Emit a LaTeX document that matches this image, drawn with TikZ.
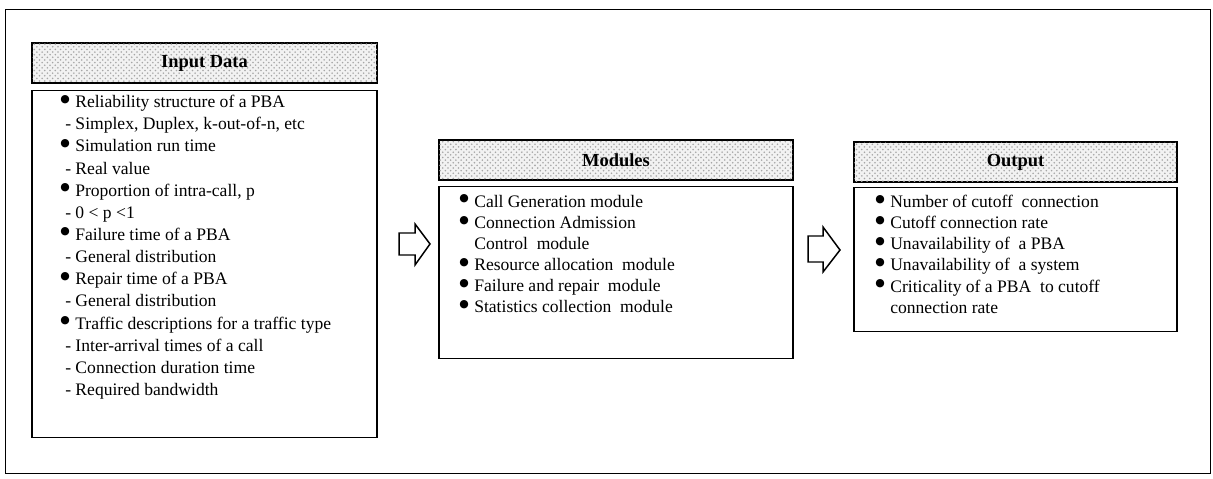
\documentclass[tikz,border=0pt]{standalone}
\usepackage{fontspec}
\setmainfont{Liberation Serif}
\newfontfamily\symfont{DejaVu Sans}
\usetikzlibrary{patterns}
\tikzset{
  headbox/.style={
    draw,
    line width=1.1pt,
    fill=black!5,
    postaction={pattern=crosshatch dots, pattern color=black!35},
    inner sep=0pt,
    font=\bfseries\fontsize{10.5}{12}\selectfont
  },
  bodybox/.style={
    draw,
    line width=0.85pt,
    inner sep=0pt
  },
  itemtext/.style={
    anchor=north west,
    inner sep=0pt,
    align=left
  },
  blockarrow/.style={
    draw,
    line width=0.85pt,
    line join=miter,
    fill=white
  }
}
% bullet, sub item dash and continuation indent
\newcommand{\bul}{\makebox[8.5pt][l]{\raisebox{3.2pt}[0pt][0pt]{\symfont\fontsize{6.2}{6.2}\selectfont ●}}}
\newcommand{\subit}{\hspace{2.8pt}- }
\newcommand{\cont}{\hspace{8.5pt}}

\begin{document}
\begin{tikzpicture}[x=0.02cm,y=-0.02cm]
  \useasboundingbox (0,0) rectangle (1213,479);
  \draw[line width=0.5pt] (5,9) rectangle (1210,473);

  % input
  \node[headbox, minimum width=6.9cm, minimum height=0.8cm] (inhead) at (204.5,63) {Input Data};
  \node[bodybox, minimum width=6.9cm, minimum height=6.94cm, anchor=north] (inbody) at (204.5,90) {};
  \node[itemtext, font=\fontsize{10}{12.6}\selectfont] (inlist) at (60,95) {%
    \bul Reliability structure of a PBA\\
    \subit Simplex, Duplex, k-out-of-n, etc\\
    \bul Simulation run time\\
    \subit Real value\\
    \bul Proportion of intra-call, p\\
    \subit 0 < p <1\\
    \bul Failure time of a PBA\\
    \subit General distribution\\
    \bul Repair time of a PBA\\
    \subit General distribution\\
    \bul Traffic descriptions for a traffic type\\
    \subit Inter-arrival times of a call\\
    \subit Connection duration time\\
    \subit Required bandwidth};

  % modules
  \node[headbox, minimum width=7.08cm, minimum height=0.8cm] (modhead) at (616,160) {Modules};
  \node[bodybox, minimum width=7.08cm, minimum height=3.44cm, anchor=north] (modbody) at (616,186) {};
  \node[itemtext, font=\fontsize{10}{12}\selectfont] (modlist) at (459,195) {%
    \bul Call Generation module\\
    \bul Connection Admission\\
    \cont Control\ \ module\\
    \bul Resource allocation\ \ module\\
    \bul Failure and repair\ \ module\\
    \bul Statistics collection\ \ module};

  % output
  \node[headbox, minimum width=6.46cm, minimum height=0.8cm] (outhead) at (1015.5,162) {Output};
  \node[bodybox, minimum width=6.46cm, minimum height=2.88cm, anchor=north] (outbody) at (1015.5,187) {};
  \node[itemtext, font=\fontsize{10}{12}\selectfont] (outlist) at (875,195) {%
    \bul Number of cutoff\ \ connection\\
    \bul Cutoff connection rate\\
    \bul Unavailability of\ \ a PBA\\
    \bul Unavailability of\ \ a system\\
    \bul Criticality of a PBA\ \ to cutoff\\
    \cont connection rate};

  % hollow arrows between the boxes
  \draw[blockarrow] (399,233) -- (415,233) -- (415,224) -- (430,244)
    -- (415,265) -- (415,255) -- (399,255) -- cycle;
  \draw[blockarrow] (808,236) -- (823,236) -- (823,227) -- (840,250)
    -- (823,272) -- (823,262) -- (808,262) -- cycle;
\end{tikzpicture}
\end{document}
